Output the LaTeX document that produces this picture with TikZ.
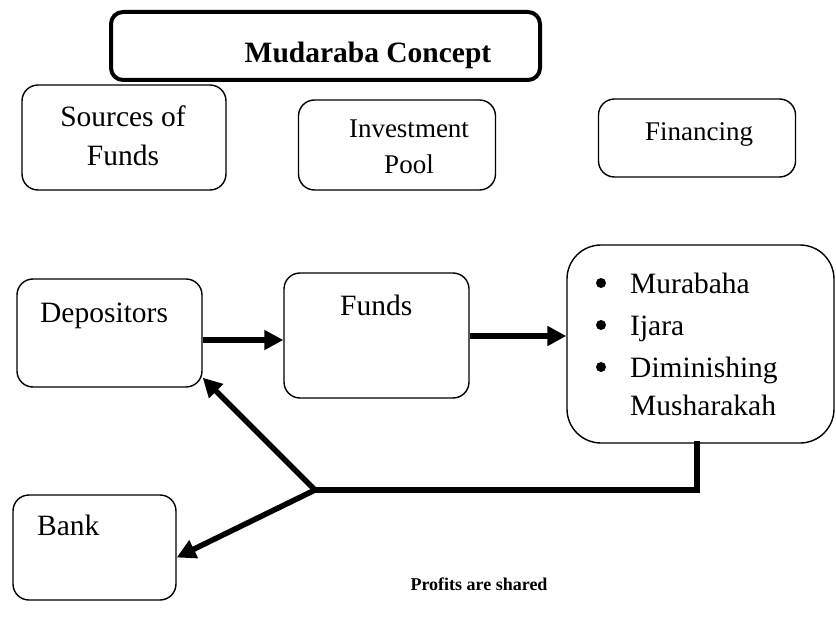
\documentclass[tikz,border=0pt]{standalone}
\usepackage{fontspec}
\setmainfont{Liberation Serif}
\usetikzlibrary{arrows.meta}
\begin{document}
\begin{tikzpicture}[x=1pt,y=-1pt,
  box/.style={draw, rounded corners=16pt, line width=1.4pt, inner sep=0pt},
  txt/.style={font=\fontsize{29.5}{36}\selectfont, inner sep=0pt, anchor=base},
  dot/.style={circle, fill, inner sep=0pt, minimum size=10pt},
  conn/.style={line width=5.5pt},
  arr/.style={line width=5.5pt, -{Triangle[length=19pt,width=19pt]}}]
\useasboundingbox (0,0) rectangle (836,618);

% title
\node[box, line width=4pt, rounded corners=12pt, minimum width=429pt, minimum height=68pt] (title) at (325.5,46) {};
\node[txt, font={\fontsize{29.5}{36}\selectfont\bfseries}] (titletext) at (368,63) {Mudaraba Concept};

% heading boxes
\node[box, minimum width=204pt, minimum height=105pt] (src) at (124,137.5) {};
\node[txt] (src1) at (123,127) {Sources of};
\node[txt] (src2) at (123,165) {Funds};

\node[box, minimum width=197pt, minimum height=90pt] (pool) at (397,145) {};
\node[txt, font=\fontsize{27}{34}\selectfont] (pool1) at (409,137) {Investment};
\node[txt, font=\fontsize{27}{34}\selectfont] (pool2) at (409,173) {Pool};

\node[box, minimum width=197pt, minimum height=78pt] (fin) at (697,138) {};
\node[txt, font=\fontsize{27}{34}\selectfont] (fin1) at (699,140) {Financing};

% flow boxes
\node[box, minimum width=185pt, minimum height=108pt] (dep) at (109.5,333) {};
\node[txt, anchor=base west] (deptext) at (40,322) {Depositors};

\node[box, minimum width=185pt, minimum height=125pt] (funds) at (376.5,335.5) {};
\node[txt, anchor=base west] (fundstext) at (340,315) {Funds};

\node[box, rounded corners=34pt, minimum width=267pt, minimum height=198pt] (list) at (700.5,344) {};
\node[dot] (bul1) at (601,283) {};
\node[txt, anchor=base west] (it1) at (630,293) {Murabaha};
\node[dot] (bul2) at (601,325) {};
\node[txt, anchor=base west] (it2) at (630,335) {Ijara};
\node[dot] (bul3) at (601,367) {};
\node[txt, anchor=base west] (it3) at (630,377) {Diminishing};
\node[txt, anchor=base west] (it4) at (630,415) {Musharakah};

\node[box, minimum width=163pt, minimum height=105pt] (bank) at (94.5,547.5) {};
\node[txt, anchor=base west] (banktext) at (37,535) {Bank};

\node[txt, font={\fontsize{18}{22}\selectfont\bfseries}] (profit) at (479,590) {Profits are shared};

% connectors
\draw[arr] (dep.east |- 0,340) -- (funds.west |- 0,340);
\draw[arr] (funds.east |- 0,336) -- (list.west |- 0,336);

\coordinate (drop) at (697,490);
\coordinate (split) at (315,490);
\draw[conn, line cap=rect] (drop |- list.south) -- (drop) -- (split);
\draw[arr] (split) -- ([yshift=10pt]dep.south east);
\draw[arr] (split) -- ([yshift=-10pt]bank.east);
\end{tikzpicture}
\end{document}
